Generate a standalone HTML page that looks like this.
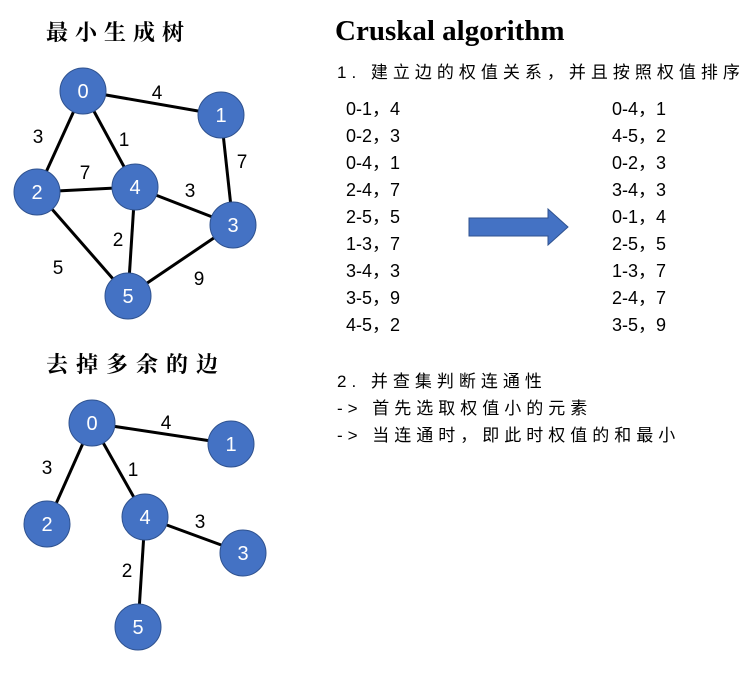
<!DOCTYPE html>
<html><head><meta charset="utf-8"><style>body{margin:0;background:#fff}</style></head>
<body>
<svg width="745" height="668" xmlns="http://www.w3.org/2000/svg" font-family="Liberation Sans, Noto Sans CJK SC, sans-serif">
<rect width="745" height="668" fill="#fff"/>
<g stroke="#000" stroke-width="3">
<line x1="83" y1="91" x2="221" y2="115"/><line x1="83" y1="91" x2="37" y2="192"/><line x1="83" y1="91" x2="135" y2="187"/>
<line x1="221" y1="115" x2="233" y2="225"/><line x1="37" y1="192" x2="135" y2="187"/><line x1="135" y1="187" x2="233" y2="225"/>
<line x1="37" y1="192" x2="128" y2="296"/><line x1="135" y1="187" x2="128" y2="296"/><line x1="233" y1="225" x2="128" y2="296"/>
<line x1="92" y1="423" x2="231" y2="444"/><line x1="92" y1="423" x2="47" y2="524"/><line x1="92" y1="423" x2="145" y2="517"/>
<line x1="145" y1="517" x2="243" y2="553"/><line x1="145" y1="517" x2="138" y2="627"/>
</g>
<g fill="#4472C4" stroke="#2F528F" stroke-width="1">
<circle cx="83" cy="91" r="23"/><circle cx="221" cy="115" r="23"/><circle cx="37" cy="192" r="23"/><circle cx="135" cy="187" r="23"/><circle cx="233" cy="225" r="23"/><circle cx="128" cy="296" r="23"/>
<circle cx="92" cy="423" r="23"/><circle cx="231" cy="444" r="23"/><circle cx="47" cy="524" r="23"/><circle cx="145" cy="517" r="23"/><circle cx="243" cy="553" r="23"/><circle cx="138" cy="627" r="23"/>
</g>
<g fill="#fff" font-size="20" text-anchor="middle">
<text x="83" y="98">0</text><text x="221" y="122">1</text><text x="37" y="199">2</text><text x="135" y="194">4</text><text x="233" y="232">3</text><text x="128" y="303">5</text>
<text x="92" y="430">0</text><text x="231" y="451">1</text><text x="47" y="531">2</text><text x="145" y="524">4</text><text x="243" y="560">3</text><text x="138" y="634">5</text>
</g>
<g fill="#000" font-size="19" text-anchor="middle">
<text x="157" y="99">4</text><text x="38" y="143">3</text><text x="124" y="146">1</text><text x="242" y="168">7</text><text x="85" y="179">7</text><text x="190" y="197">3</text><text x="118" y="246">2</text><text x="58" y="274">5</text><text x="199" y="285">9</text>
<text x="166" y="429">4</text><text x="47" y="474">3</text><text x="133" y="476">1</text><text x="200" y="528">3</text><text x="127" y="577">2</text>
</g>
<g font-family="Liberation Serif, Noto Serif CJK SC, serif" font-size="22" font-weight="bold">
<text x="46" y="40" letter-spacing="7">最小生成树</text><text x="46" y="372" letter-spacing="8">去掉多余的边</text>
</g>
<text x="335" y="40" font-family="Liberation Serif, serif" font-size="29" font-weight="bold">Cruskal algorithm</text>
<g font-size="17" fill="#000">
<text x="337" y="78" letter-spacing="5">1. 建立边的权值关系，并且按照权值排序</text>
<text x="337" y="387" letter-spacing="5">2. 并查集判断连通性</text>
<text x="337" y="414" letter-spacing="5">-&gt; 首先选取权值小的元素</text>
<text x="337" y="441" letter-spacing="5">-&gt; 当连通时，即此时权值的和最小</text>
</g>
<g font-size="18" fill="#000">
<text x="346" y="115">0-1，4</text><text x="346" y="142">0-2，3</text><text x="346" y="169">0-4，1</text><text x="346" y="196">2-4，7</text><text x="346" y="223">2-5，5</text><text x="346" y="250">1-3，7</text><text x="346" y="277">3-4，3</text><text x="346" y="304">3-5，9</text><text x="346" y="331">4-5，2</text>
<text x="612" y="115">0-4，1</text><text x="612" y="142">4-5，2</text><text x="612" y="169">0-2，3</text><text x="612" y="196">3-4，3</text><text x="612" y="223">0-1，4</text><text x="612" y="250">2-5，5</text><text x="612" y="277">1-3，7</text><text x="612" y="304">2-4，7</text><text x="612" y="331">3-5，9</text>
</g>
<polygon points="469,218 548,218 548,209 568,227 548,245 548,236 469,236" fill="#4472C4" stroke="#2F528F" stroke-width="1"/>
</svg>
</body></html>
